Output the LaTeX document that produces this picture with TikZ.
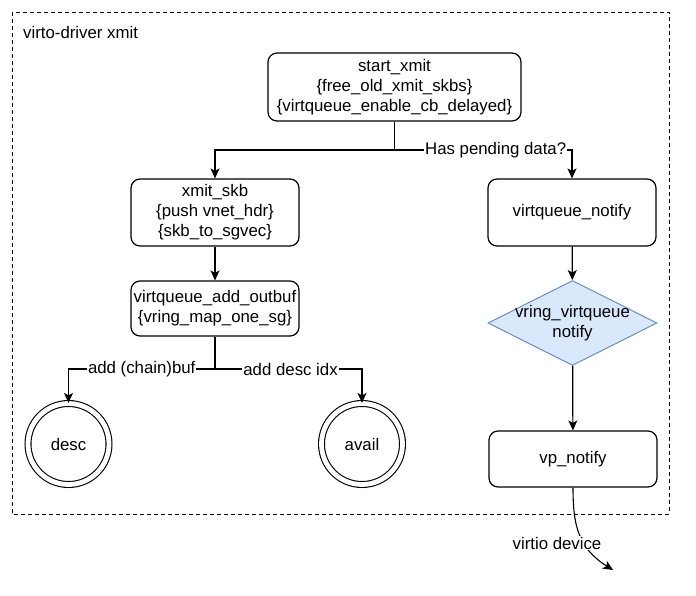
\documentclass[tikz,border=0pt]{standalone}
\usepackage{fontspec}
\setmainfont{Liberation Sans}
\usetikzlibrary{shapes.geometric,arrows.meta}
\definecolor{diafill}{HTML}{DAE8FC}
\definecolor{diadraw}{HTML}{6C8EBF}
\begin{document}
\begin{tikzpicture}[x=1pt,y=-1pt,
  txt/.style={font=\fontsize{16.8}{20}\selectfont, align=center, inner sep=0pt},
  box/.style={txt, draw, rounded corners=9pt, line width=1.2pt},
  dia/.style={shape=diamond, draw=diadraw, fill=diafill, line width=1pt, inner sep=0pt, minimum width=169pt, minimum height=85pt},
  ring/.style={txt, circle, draw, line width=1.1pt, double=white, double distance=4.8pt, minimum size=81pt},
  arr/.style={line width=1.2pt, -{Stealth[length=10pt,width=9pt,inset=2.5pt]}},
  lbl/.style={txt, fill=white, inner sep=1pt}]
\useasboundingbox[fill=white] (0,0) rectangle (696,595);
\draw[dash pattern=on 4pt off 3pt, line width=1pt] (12,12) rectangle (669,514);
\node[txt, anchor=west] (title) at (23,32) {virto-driver xmit};

\node[box, minimum width=253pt, minimum height=68pt] (start) at (394.5,87) {start\_xmit\\\{free\_old\_xmit\_skbs\}\\\{virtqueue\_enable\_cb\_delayed\}};
\node[box, minimum width=168pt, minimum height=67pt] (xmit) at (215,212.5) {xmit\_skb\\\{push vnet\_hdr\}\\\{skb\_to\_sgvec\}};
\node[box, minimum width=168pt, minimum height=67pt] (vqn) at (572,212.5) {virtqueue\_notify};
\node[box, minimum width=168pt, minimum height=55pt] (addout) at (215,308.5) {virtqueue\_add\_outbuf\\\{vring\_map\_one\_sg\}};
\node[dia] (vvn) at (572.5,323) {};
\node[txt] (vvnt) at (vvn.center) {vring\_virtqueue\\notify};
\node[box, minimum width=168pt, minimum height=56pt] (vp) at (573,459) {vp\_notify};
\node[ring] (desc) at (68.5,444) {desc};
\node[ring] (avail) at (362,444) {avail};
\coordinate (end) at (613,570);

\draw[line width=1.2pt] (start.south) -- (start.south |- 0,150) coordinate (split);
\draw[arr] (split) -| (xmit.north);
\draw[arr] (split) -| node[lbl, pos=0.285] {Has pending data?} (vqn.north);
\draw[arr] (xmit) -- (addout);
\draw[line width=1.2pt] (addout.south) -- (addout.south |- 0,369) coordinate (split2);
\draw[arr] (split2) -| node[lbl, pos=0.25] {add (chain)buf} (desc.north);
\draw[arr] (split2) -| node[lbl, pos=0.257] {add desc idx} (avail.north);
\draw[arr] (vqn) -- (vvn);
\draw[arr] (vvn) -- (vp);
\draw[arr, line width=1.1pt] (vp.south) .. controls (573,525) and (578,548) .. (end);
\node[lbl] (vd) at (557,543) {virtio device};
\end{tikzpicture}
\end{document}
